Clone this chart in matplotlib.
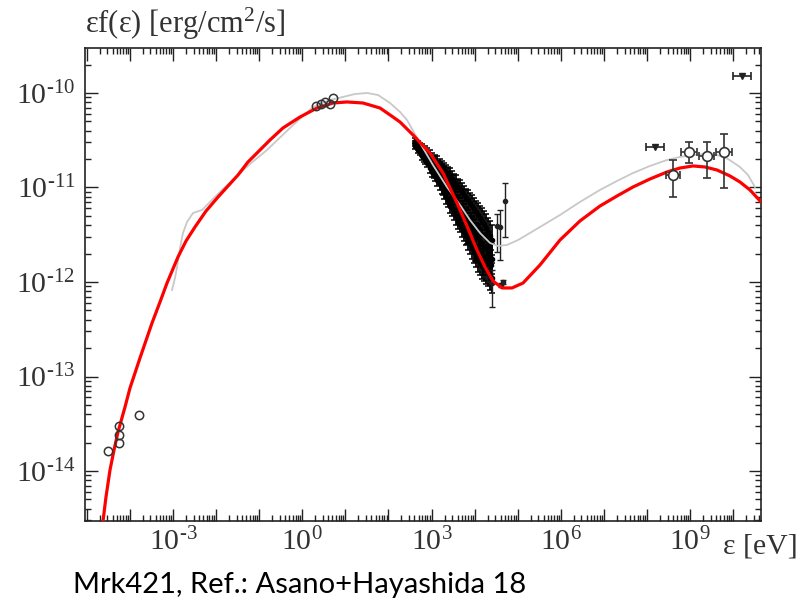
import numpy as np
import matplotlib
matplotlib.use('Agg')
import matplotlib.pyplot as plt
from matplotlib.ticker import LogLocator, FuncFormatter, NullFormatter

plt.rcParams['mathtext.fontset'] = 'custom'
plt.rcParams['mathtext.rm'] = 'Liberation Serif'
plt.rcParams['mathtext.it'] = 'Liberation Serif:italic'
plt.rcParams['font.family'] = ['Liberation Serif', 'DejaVu Serif']

# ---- model curves (log10 E [eV], log10 eF(e) [erg/cm2/s]) ----
red_logE = [-4.671, -4.624, -4.555, -4.462, -4.369, -4.276, -4.114, -3.998, -3.766, -3.487,
            -3.302, -3.139, -2.884, -2.698, -2.490, -2.234, -1.956, -1.492, -1.260, -0.981,
            -0.749, -0.448, -0.053, 0.341, 0.712, 1.037, 1.408, 1.803, 2.104, 2.267,
            2.568, 2.963, 3.265, 3.589, 3.821, 4.053, 4.239, 4.425, 4.633, 4.865,
            5.121, 5.515, 5.979, 6.443, 6.907, 7.302, 7.673, 8.067, 8.462, 8.763,
            9.065, 9.343, 9.622, 9.923, 10.155, 10.387, 10.666]
red_logF = [-14.942, -14.529, -14.275, -13.989, -13.778, -13.587, -13.323, -13.122, -12.804, -12.434,
            -12.212, -12.011, -11.735, -11.566, -11.418, -11.249, -11.101, -10.868, -10.730, -10.603,
            -10.497, -10.370, -10.254, -10.159, -10.106, -10.095, -10.106, -10.159, -10.254, -10.307,
            -10.444, -10.635, -10.847, -11.164, -11.407, -11.661, -11.841, -11.989, -12.063, -12.063,
            -12.011, -11.820, -11.556, -11.354, -11.196, -11.090, -10.995, -10.910, -10.836, -10.794,
            -10.772, -10.783, -10.815, -10.878, -10.942, -11.026, -11.164]

grey_logE = [-3.023, -2.954, -2.907, -2.838, -2.768, -2.675, -2.536, -2.327, -2.095, -1.863,
             -1.561, -1.213, -0.819, -0.285, 0.248, 0.643, 0.944, 1.223, 1.501, 1.756,
             2.035, 2.267, 2.429, 2.731, 3.032, 3.357, 3.659, 3.891, 4.123, 4.355,
             4.541, 4.749, 5.005, 5.283, 5.631, 5.979, 6.443, 6.907, 7.302, 7.673,
             8.067, 8.462, 8.763, 9.065, 9.343, 9.622, 9.877, 10.155, 10.341, 10.503]
grey_logF = [-12.085, -11.958, -11.841, -11.640, -11.481, -11.365, -11.270, -11.238, -11.132, -11.026,
             -10.899, -10.751, -10.603, -10.370, -10.148, -10.074, -10.042, -10.011, -10.000, -10.021,
             -10.106, -10.201, -10.286, -10.529, -10.762, -10.995, -11.185, -11.344, -11.481, -11.587,
             -11.619, -11.608, -11.556, -11.481, -11.386, -11.291, -11.153, -11.026, -10.931, -10.847,
             -10.772, -10.709, -10.677, -10.656, -10.646, -10.656, -10.698, -10.783, -10.868, -10.995]

# ---- radio / optical points ----
radio_logE = [-4.508, -4.253, -4.253, -4.253, -3.789]
radio_logF = [-13.788, -13.524, -13.619, -13.704, -13.407]
opt_logE = [0.318, 0.434, 0.527, 0.643, 0.712]
opt_logF = [-10.138, -10.116, -10.095, -10.116, -10.053]

# ---- X-ray band ----
xray_logE = [2.615, 2.684, 2.731, 2.777, 2.847, 2.893, 2.963, 3.009, 3.079, 3.125, 3.195, 3.241,
             3.288, 3.334, 3.381, 3.427, 3.473, 3.520, 3.566, 3.613, 3.659, 3.705, 3.752, 3.798,
             3.845, 3.891, 3.937, 3.984, 4.030, 4.077, 4.123, 4.169, 4.216, 4.262, 4.309, 4.355, 4.401]
xray_hi_logF = [-10.508, -10.540, -10.561, -10.582, -10.603, -10.624, -10.656, -10.688, -10.709, -10.730,
                -10.762, -10.783, -10.815, -10.836, -10.857, -10.878, -10.910, -10.942, -10.963, -10.995,
                -11.016, -11.048, -11.079, -11.111, -11.132, -11.164, -11.196, -11.228, -11.259, -11.291,
                -11.323, -11.354, -11.386, -11.429, -11.471, -11.513, -11.556]
xray_lo_logF = [-10.561, -10.603, -10.624, -10.667, -10.709, -10.741, -10.794, -10.836, -10.878, -10.921,
                -10.963, -11.005, -11.048, -11.101, -11.132, -11.185, -11.217, -11.259, -11.302, -11.344,
                -11.386, -11.429, -11.471, -11.513, -11.556, -11.598, -11.640, -11.683, -11.725, -11.767,
                -11.799, -11.831, -11.852, -11.873, -11.894, -11.926, -11.958]
xray_mid_logF = [-10.534, -10.571, -10.592, -10.624, -10.656, -10.683, -10.725, -10.762, -10.794, -10.826,
                 -10.863, -10.894, -10.932, -10.969, -10.995, -11.032, -11.064, -11.101, -11.133, -11.170,
                 -11.201, -11.239, -11.275, -11.312, -11.344, -11.381, -11.418, -11.456, -11.492, -11.529,
                 -11.561, -11.593, -11.619, -11.651, -11.683, -11.720, -11.757]
xray_err = [0.03, 0.03, 0.03, 0.04, 0.04, 0.04, 0.05, 0.05, 0.05, 0.06, 0.06, 0.06, 0.07, 0.07, 0.07,
            0.08, 0.08, 0.08, 0.09, 0.09, 0.09, 0.10, 0.10, 0.10, 0.11, 0.11, 0.12, 0.12, 0.12, 0.13,
            0.13, 0.14, 0.14, 0.15, 0.15, 0.16, 0.16]

xray2_logE = [2.824, 2.940, 3.056, 3.172, 3.265, 3.357, 3.450, 3.543, 3.636, 3.729, 3.821, 3.914,
              4.007, 4.100, 4.193, 4.285, 4.378]
xray2_logF = [-10.677, -10.688, -10.836, -10.815, -11.005, -10.952, -11.132, -11.090, -11.291, -11.238,
              -11.503, -11.365, -11.661, -11.503, -11.788, -11.640, -11.820]
xray2_err = [0.05, 0.05, 0.06, 0.06, 0.07, 0.07, 0.08, 0.08, 0.09, 0.09, 0.10, 0.10, 0.12, 0.12,
             0.14, 0.14, 0.16]

# ---- hard X-ray points ----
hx_logE = [4.703, 4.517, 4.587, 4.610, 4.657, 4.401]
hx_logF = [-11.143, -11.407, -11.418, -12.032, -12.000, -12.011]
hx_err_up = [0.190, 0.127, 0.180, 0.02, 0.02, 0.138]
hx_err_dn = [0.381, 0.276, 0.349, 0.02, 0.02, 0.254]

# ---- gamma-ray points ----
gam_logE = [8.601, 8.972, 9.390, 9.784]
gam_logF = [-10.868, -10.624, -10.667, -10.624]
gam_err_up = [0.159, 0.105, 0.148, 0.190]
gam_err_dn = [0.233, 0.117, 0.232, 0.381]
gam_xerr = [0.162, 0.186, 0.174, 0.186]

ul_logE = [8.183, 10.202]
ul_logF = [-10.571, -9.820]
ul_xerr = [0.209, 0.209]

x_label_exps = [-3, 0, 3, 6, 9]
y_label_exps = [-10, -11, -12, -13, -14]
caption = 'Mrk421, Ref.: Asano+Hayashida 18'


def p10(a):
    return np.power(10.0, np.asarray(a, dtype=float))


def asym_err(center_log, up, dn):
    c = np.asarray(center_log, dtype=float)
    v = p10(c)
    return v, np.vstack([v - p10(c - np.asarray(dn)), p10(c + np.asarray(up)) - v])


fig = plt.figure(figsize=(8.08, 6.05), dpi=100)
ax = fig.add_axes([85 / 808, 1 - 521 / 605, (761 - 85) / 808, (521 - 48) / 605])
ax.set_xscale('log')
ax.set_yscale('log')
ax.set_xlim(10 ** -5.042, 10 ** 10.643)
ax.set_ylim(10 ** -14.529, 10 ** -9.524)

# X-ray band
for arr in (xray_hi_logF, xray_mid_logF, xray_lo_logF):
    y, yerr = asym_err(arr, xray_err, xray_err)
    ax.errorbar(p10(xray_logE), y, yerr=yerr, fmt='o', ms=3, color='#000000',
                ecolor='#000000', elinewidth=1.3, capsize=2.2, capthick=1.1, zorder=2)
y, yerr = asym_err(xray2_logF, xray2_err, xray2_err)
ax.errorbar(p10(xray2_logE), y, yerr=yerr, fmt='o', ms=3, color='#000000',
            ecolor='#000000', elinewidth=1.3, capsize=2.2, capthick=1.1, zorder=2)

# hard X-ray
y, yerr = asym_err(hx_logF, hx_err_up, hx_err_dn)
ax.errorbar(p10(hx_logE), y, yerr=yerr, fmt='o', ms=3, color='#222222',
            ecolor='#222222', elinewidth=1.0, capsize=2.5, capthick=1.0, zorder=2)

# model curves
ax.plot(p10(grey_logE), p10(grey_logF), color='#c8c8c8', lw=1.3, zorder=3,
        solid_joinstyle='round')
ax.plot(p10(red_logE), p10(red_logF), color='#ff0000', lw=2.3, zorder=4,
        solid_joinstyle='round')

# radio / optical
ax.plot(p10(radio_logE), p10(radio_logF), 'o', ms=6, mfc='none', mec='#333333', mew=1.1, zorder=5)
ax.plot(p10(opt_logE), p10(opt_logF), 'o', ms=6, mfc='none', mec='#333333', mew=1.1, zorder=5)

# gamma-ray
gE = p10(gam_logE)
xerr_g = np.vstack([gE - p10(np.asarray(gam_logE) - np.asarray(gam_xerr)),
                    p10(np.asarray(gam_logE) + np.asarray(gam_xerr)) - gE])
y, yerr = asym_err(gam_logF, gam_err_up, gam_err_dn)
ax.errorbar(gE, y, yerr=yerr, xerr=xerr_g, fmt='o', ms=7, mfc='white', mec='#333333', mew=1.2,
            ecolor='#333333', elinewidth=1.2, capsize=3, capthick=1.2, zorder=5)

uE = p10(ul_logE)
xerr_u = np.vstack([uE - p10(np.asarray(ul_logE) - np.asarray(ul_xerr)),
                    p10(np.asarray(ul_logE) + np.asarray(ul_xerr)) - uE])
ax.errorbar(uE, p10(ul_logF), xerr=xerr_u, fmt='v', ms=5, color='#222222',
            ecolor='#222222', elinewidth=1.2, capsize=3, capthick=1.2, zorder=5)

# ticks
ax.xaxis.set_major_locator(LogLocator(base=10, numticks=40))
ax.xaxis.set_minor_locator(LogLocator(base=10, subs=np.arange(2, 10), numticks=40))
ax.yaxis.set_major_locator(LogLocator(base=10, numticks=40))
ax.yaxis.set_minor_locator(LogLocator(base=10, subs=np.arange(2, 10), numticks=40))


def fmt_x(v, pos):
    e = int(round(np.log10(v)))
    if e in x_label_exps:
        s = r'\text{-}%d' % (-e) if e < 0 else '%d' % e
        return r'$10^{%s}$' % s
    return ''


def fmt_y(v, pos):
    e = int(round(np.log10(v)))
    if e in y_label_exps:
        return r'$10^{\text{-}%d}$' % (-e)
    return ''


ax.xaxis.set_major_formatter(FuncFormatter(fmt_x))
ax.yaxis.set_major_formatter(FuncFormatter(fmt_y))
ax.xaxis.set_minor_formatter(NullFormatter())
ax.yaxis.set_minor_formatter(NullFormatter())

ax.tick_params(which='both', direction='in', top=True, right=True, color='#222222', width=1.0)
ax.tick_params(which='major', length=9, labelsize=21.5, labelcolor='#333333')
ax.tick_params(which='minor', length=4.5)
ax.tick_params(axis='x', which='major', pad=5)
ax.tick_params(axis='y', which='major', pad=7)
for s in ax.spines.values():
    s.set_linewidth(1.2)
    s.set_color('#222222')

fig.text(85 / 808, 1 - 24 / 605, r'εf(ε) [erg/cm$^{2}$/s]',
         fontsize=22, color='#333333', ha='left', va='center')
fig.text(798 / 808, 1 - 546 / 605, 'ε [eV]', fontsize=21.5, color='#333333',
         ha='right', va='center')
fig.text(73 / 808, 1 - 585 / 605, caption, family='Lato', fontsize=21, color='black',
         ha='left', va='center')

fig.savefig('out.png', dpi=100)
